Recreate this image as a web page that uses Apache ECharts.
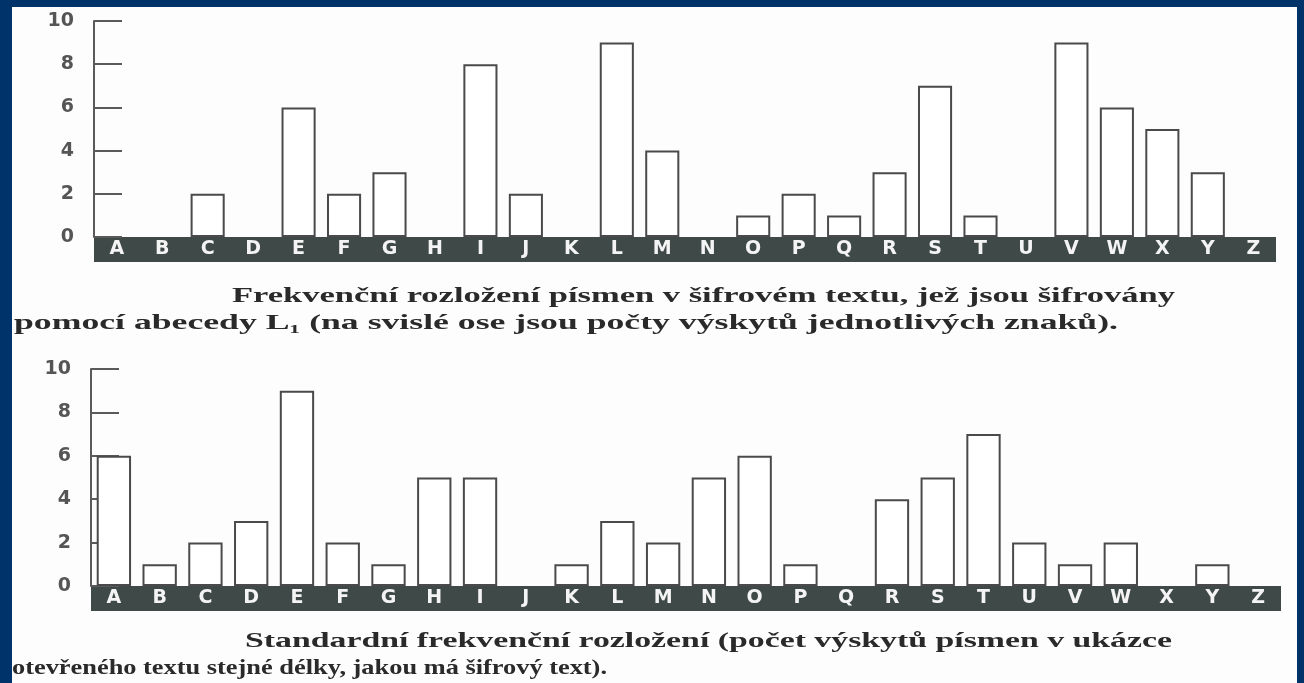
<!DOCTYPE html>
<html><head><meta charset="utf-8">
<script src="https://cdn.jsdelivr.net/npm/echarts@6/dist/echarts.min.js"></script>
<style>
html,body{margin:0;padding:0;background:#00336a;width:1304px;height:683px;overflow:hidden}
#page{position:absolute;left:12px;top:7px;width:1285px;height:676px;background:#fdfdfd}
#c{position:absolute;left:0;top:0;width:1304px;height:683px}
</style></head>
<body><div id="page"></div><div id="c"></div>
<script>
const letters = ['A','B','C','D','E','F','G','H','I','J','K','L','M','N','O','P','Q','R','S','T','U','V','W','X','Y','Z'];
const cipherCounts = [0,0,2,0,6,2,3,0,8,2,0,9,4,0,1,2,1,3,7,1,0,9,6,5,3,0];
const standardCounts = [6,1,2,3,9,2,1,5,5,0,1,3,2,5,6,1,0,4,5,7,2,1,2,0,1,0];
const yMin = 0, yMax = 10, yStep = 2;
const caption1 = ['Frekvenční rozložení písmen v šifrovém textu, jež jsou šifrovány',
                  'pomocí abecedy L₁ (na svislé ose jsou počty výskytů jednotlivých znaků).'];
const caption2 = ['Standardní frekvenční rozložení (počet výskytů písmen v ukázce',
                  'otevřeného textu stejné délky, jakou má šifrový text).'];

const capFont = 'bold 21px "Liberation Serif"';
const mctx = document.createElement('canvas').getContext('2d');
mctx.font = capFont;
function capText(str, x, y, targetW) {
  const w = mctx.measureText(str).width;
  return {
    type: 'text', left: x, top: y - 12, scaleX: targetW / w, originX: 0, originY: 0,
    style: { text: str, font: capFont, fill: '#2a2a2a' }
  };
}

const grids = [
  { left: 94, top: 21, width: 1182, height: 216 },
  { left: 91, top: 369, width: 1190, height: 217 }
];
const datasets = [cipherCounts, standardCounts];

const xAxes = grids.map((g, i) => ({
  type: 'category', gridIndex: i, data: letters, offset: 12.5, position: 'bottom',
  axisLine: { show: true, onZero: false, lineStyle: { color: '#3f4947', width: 25, cap: 'butt' } },
  axisTick: { show: false },
  axisLabel: { interval: 0, margin: 0, verticalAlign: 'middle', color: '#f4f4f4',
               fontFamily: 'DejaVu Sans', fontWeight: 'bold', fontSize: 19 }
}));
const yAxes = grids.map((g, i) => ({
  type: 'value', gridIndex: i, min: yMin, max: yMax, interval: yStep,
  axisLine: { show: true, lineStyle: { color: '#5a5a5a', width: 2 } },
  axisTick: { show: true, inside: true, length: 28, lineStyle: { color: '#5a5a5a', width: 2 } },
  splitLine: { show: false },
  axisLabel: { margin: 20, color: '#555', fontFamily: 'DejaVu Sans', fontWeight: 'bold', fontSize: 19 }
}));
const series = datasets.map((d, i) => ({
  type: 'bar', xAxisIndex: i, yAxisIndex: i,
  data: d.map(v => (v === 0 ? '-' : v)),
  barCategoryGap: '25%',
  itemStyle: { color: '#ffffff', borderColor: '#4a4a4a', borderWidth: 2 },
  z: 3
}));

const chart = echarts.init(document.getElementById('c'), null, { renderer: 'canvas' });
chart.setOption({
  backgroundColor: 'transparent',
  animation: false,
  grid: grids,
  xAxis: xAxes,
  yAxis: yAxes,
  series: series,
  graphic: [
    capText(caption1[0], 232, 298, 943),
    capText(caption1[1], 14, 325, 1104),
    capText(caption2[0], 245, 643, 927),
    capText(caption2[1], 12, 670, 595)
  ]
});
</script></body></html>
